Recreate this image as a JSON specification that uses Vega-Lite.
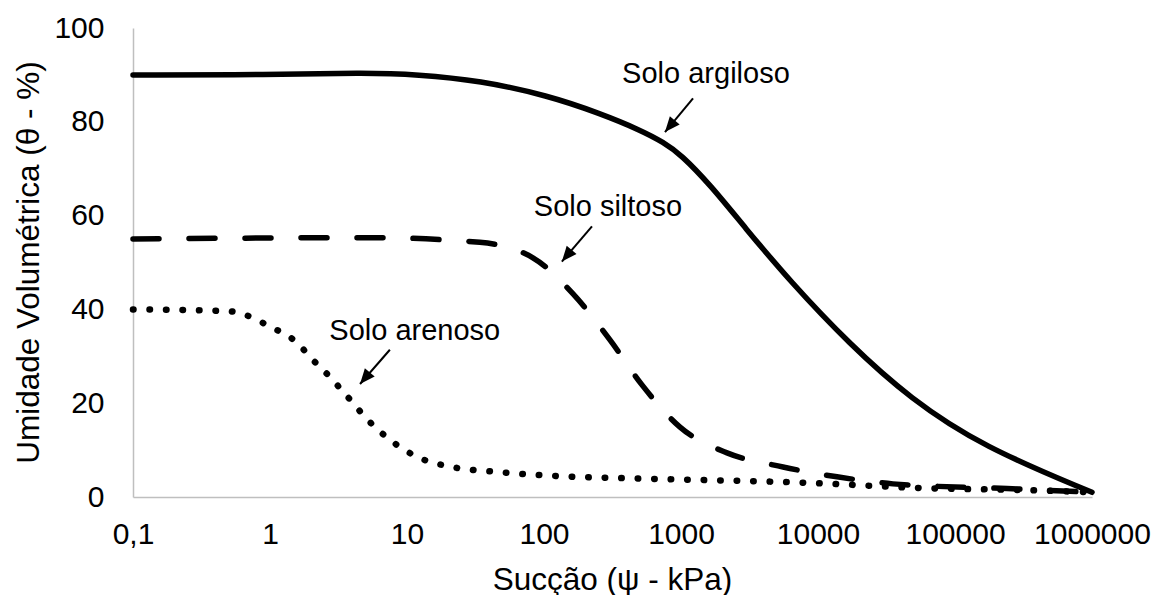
{
  "$schema": "https://vega.github.io/schema/vega-lite/v6.json",
  "autosize": {"type": "none"},
  "width": 959,
  "height": 469,
  "padding": {"left": 133, "top": 28, "right": 62, "bottom": 98},
  "background": "white",
  "config": {
    "view": {"stroke": null},
    "font": "Liberation Sans",
    "axis": {"labelFont": "Liberation Sans", "titleFont": "Liberation Sans", "labelColor": "#000000", "titleColor": "#000000", "titleFontWeight": "normal", "grid": false, "ticks": false, "tickSize": 0, "domainColor": "#bfbfbf", "domainWidth": 1.5}
  },
  "datasets": {
    "curves": [
      {"suc": 0.1, "theta": 90.0, "solo": "argiloso"},
      {"suc": 1, "theta": 90.0, "solo": "argiloso"},
      {"suc": 4.8, "theta": 90.5, "solo": "argiloso"},
      {"suc": 12, "theta": 90.1, "solo": "argiloso"},
      {"suc": 34, "theta": 88.8, "solo": "argiloso"},
      {"suc": 107, "theta": 85.6, "solo": "argiloso"},
      {"suc": 256, "theta": 81.8, "solo": "argiloso"},
      {"suc": 500, "theta": 78.3, "solo": "argiloso"},
      {"suc": 750, "theta": 75.6, "solo": "argiloso"},
      {"suc": 1000, "theta": 73.0, "solo": "argiloso"},
      {"suc": 1630, "theta": 66.6, "solo": "argiloso"},
      {"suc": 2900, "theta": 57.6, "solo": "argiloso"},
      {"suc": 6250, "theta": 46.0, "solo": "argiloso"},
      {"suc": 17130, "theta": 32.5, "solo": "argiloso"},
      {"suc": 46950, "theta": 21.0, "solo": "argiloso"},
      {"suc": 160000, "theta": 10.7, "solo": "argiloso"},
      {"suc": 1000000, "theta": 1.0, "solo": "argiloso"},
      {"suc": 0.1, "theta": 55.0, "solo": "siltoso"},
      {"suc": 5.4, "theta": 55.3, "solo": "siltoso"},
      {"suc": 34, "theta": 54.3, "solo": "siltoso"},
      {"suc": 83, "theta": 51.0, "solo": "siltoso"},
      {"suc": 163, "theta": 43.3, "solo": "siltoso"},
      {"suc": 303, "theta": 33.5, "solo": "siltoso"},
      {"suc": 519, "theta": 23.9, "solo": "siltoso"},
      {"suc": 984, "theta": 14.9, "solo": "siltoso"},
      {"suc": 2168, "theta": 9.4, "solo": "siltoso"},
      {"suc": 5557, "theta": 6.4, "solo": "siltoso"},
      {"suc": 13770, "theta": 4.3, "solo": "siltoso"},
      {"suc": 35240, "theta": 2.8, "solo": "siltoso"},
      {"suc": 240000, "theta": 1.8, "solo": "siltoso"},
      {"suc": 1000000, "theta": 1.0, "solo": "siltoso"},
      {"suc": 0.1, "theta": 40.0, "solo": "arenoso"},
      {"suc": 0.51, "theta": 39.6, "solo": "arenoso"},
      {"suc": 0.68, "theta": 38.7, "solo": "arenoso"},
      {"suc": 1.05, "theta": 36.0, "solo": "arenoso"},
      {"suc": 1.4, "theta": 34.1, "solo": "arenoso"},
      {"suc": 1.71, "theta": 31.8, "solo": "arenoso"},
      {"suc": 2.06, "theta": 29.2, "solo": "arenoso"},
      {"suc": 2.52, "theta": 26.7, "solo": "arenoso"},
      {"suc": 3.65, "theta": 21.5, "solo": "arenoso"},
      {"suc": 5.19, "theta": 16.4, "solo": "arenoso"},
      {"suc": 7.9, "theta": 11.7, "solo": "arenoso"},
      {"suc": 12.4, "theta": 8.3, "solo": "arenoso"},
      {"suc": 21.3, "theta": 6.4, "solo": "arenoso"},
      {"suc": 47.7, "theta": 5.3, "solo": "arenoso"},
      {"suc": 138, "theta": 4.4, "solo": "arenoso"},
      {"suc": 403, "theta": 4.0, "solo": "arenoso"},
      {"suc": 8750, "theta": 3.0, "solo": "arenoso"},
      {"suc": 58400, "theta": 1.9, "solo": "arenoso"},
      {"suc": 404000, "theta": 1.4, "solo": "arenoso"},
      {"suc": 1000000, "theta": 1.0, "solo": "arenoso"}
    ],
    "labels": [
      {"suc": 1521, "theta": 90.2, "label": "Solo argiloso"},
      {"suc": 293, "theta": 61.8, "label": "Solo siltoso"},
      {"suc": 11.4, "theta": 35.3, "label": "Solo arenoso"}
    ],
    "arrows": [
      {"suc": 1224, "theta": 85.0, "suc2": 764, "theta2": 77.8},
      {"suc": 224, "theta": 57.7, "suc2": 135, "theta2": 50.2},
      {"suc": 7.5, "theta": 31.4, "suc2": 4.54, "theta2": 24.1}
    ]
  },
  "encoding": {
    "x": {"field": "suc", "type": "quantitative",
      "scale": {"type": "log", "domain": [0.1, 1000000], "nice": false},
      "axis": {"values": [0.1, 1, 10, 100, 1000, 10000, 100000, 1000000],
        "labelExpr": "datum.value < 0.5 ? '0,1' : format(datum.value, 'd')",
        "labelFontSize": 30, "labelPadding": 22, "labelBaseline": "top", "labelFlush": false,
        "title": "Sucção (ψ - kPa)", "titleFontSize": 31.5, "titleX": 479, "titleY": 83, "titleBaseline": "middle", "titleAnchor": null, "titleAlign": "center"}},
    "y": {"field": "theta", "type": "quantitative",
      "scale": {"domain": [0, 100], "nice": false},
      "axis": {"values": [0, 20, 40, 60, 80, 100], "labelFontSize": 30, "labelPadding": 29, "labelFlush": false,
        "title": "Umidade Volumétrica (θ - %)", "titleFontSize": 31.5, "titleX": -104, "titleY": 234, "titleBaseline": "middle", "titleAlign": "center", "titleAngle": -90}}
  },
  "layer": [
    {
      "data": {"name": "curves"},
      "transform": [{"filter": "datum.solo == 'argiloso'"}],
      "mark": {"type": "line", "interpolate": "basis", "strokeCap": "round", "strokeWidth": 5.5, "color": "#000000"},
      "encoding": {
        "order": {"field": "suc", "type": "quantitative"}
      }
    },
    {
      "data": {"name": "curves"},
      "transform": [{"filter": "datum.solo != 'argiloso'"}],
      "mark": {"type": "line", "interpolate": "monotone", "strokeCap": "round", "color": "#000000"},
      "encoding": {
        "detail": {"field": "solo"},
        "order": {"field": "suc", "type": "quantitative"},
        "strokeDash": {"field": "solo", "type": "nominal", "legend": null,
          "scale": {"domain": ["siltoso", "arenoso"], "range": [[26, 30], [0.5, 16]]}},
        "strokeWidth": {"field": "solo", "type": "nominal", "legend": null,
          "scale": {"domain": ["siltoso", "arenoso"], "range": [5.5, 6.5]}}
      }
    },
    {
      "data": {"name": "arrows"},
      "mark": {"type": "rule", "color": "#000000", "strokeWidth": 2},
      "encoding": {
        "x2": {"field": "suc2"},
        "y2": {"field": "theta2"}
      }
    },
    {
      "data": {"name": "arrows"},
      "mark": {"type": "point", "shape": "M0,0L-0.8,1.9L0.8,1.9Z", "filled": true, "color": "#000000", "opacity": 1, "size": 256, "angle": 220},
      "encoding": {
        "x": {"field": "suc2", "type": "quantitative"},
        "y": {"field": "theta2", "type": "quantitative"}
      }
    },
    {
      "data": {"name": "labels"},
      "mark": {"type": "text", "fontSize": 29, "font": "Liberation Sans", "color": "#000000", "align": "center", "baseline": "middle"},
      "encoding": {
        "text": {"field": "label"}
      }
    }
  ]
}
